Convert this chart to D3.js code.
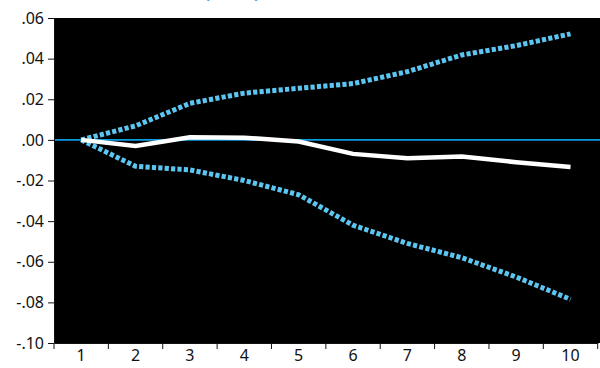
<!DOCTYPE html>
<html>
<head>
<meta charset="utf-8">
<script src="https://cdn.jsdelivr.net/npm/d3@7"></script>
<style>
  body { margin: 0; background: #fff; }
  .axis text { font-family: "Noto Sans", sans-serif; font-size: 16px; fill: #111; }
  .axis path, .axis line { stroke: #111; stroke-width: 1; }
</style>
</head>
<body>
<script>
// periods on the x axis
var periods = [1, 2, 3, 4, 5, 6, 7, 8, 9, 10];
// response (white line)
var response = [0.0000, -0.0030, 0.0013, 0.0011, -0.0008, -0.0069, -0.0090, -0.0082, -0.0110, -0.0133];
// +2 S.E. band
var upperBand = [0.0000, 0.0069, 0.0180, 0.0230, 0.0254, 0.0277, 0.0336, 0.0418, 0.0464, 0.0522];
// -2 S.E. band
var lowerBand = [0.0000, -0.0130, -0.0148, -0.0200, -0.0270, -0.0420, -0.0510, -0.0580, -0.0675, -0.0785];
// y tick values and labels
var yTicks = [0.06, 0.04, 0.02, 0.00, -0.02, -0.04, -0.06, -0.08, -0.10];
var yLabels = [".06", ".04", ".02", ".00", "-.02", "-.04", "-.06", "-.08", "-.10"];

var W = 600, H = 368;
var margin = {top: 18, right: 2.3, bottom: 25, left: 54};
var width = W - margin.left - margin.right;
var height = H - margin.top - margin.bottom;

var svg = d3.select("body").append("svg")
    .attr("width", W)
    .attr("height", H);

// title, mostly cut off at the top (as in the source picture)
svg.append("text")
    .attr("x", 204)
    .attr("y", -2)
    .attr("textLength", 56)
    .attr("lengthAdjust", "spacing")
    .style("font-family", "Noto Sans, sans-serif")
    .style("font-size", "18px")
    .style("font-weight", "bold")
    .style("fill", "#0a9be3")
    .text("(...)");

var g = svg.append("g")
    .attr("transform", "translate(" + margin.left + "," + margin.top + ")");

var xBand = d3.scaleBand()
    .domain(periods)
    .range([0, width]);

var yScale = d3.scaleLinear()
    .domain([-0.10, 0.06])
    .range([height, 0]);

// black plot area
g.append("rect")
    .attr("x", 0)
    .attr("y", 0)
    .attr("width", W - margin.left)
    .attr("height", height)
    .attr("fill", "#000");

// zero line
g.append("line")
    .attr("x1", 0)
    .attr("x2", W - margin.left)
    .attr("y1", yScale(0))
    .attr("y2", yScale(0))
    .attr("stroke", "#0a9be3")
    .attr("stroke-width", 1.6);

function xPos(i) {
  return xBand(periods[i]) + xBand.bandwidth() / 2;
}

var line = d3.line()
    .x(function(d, i) { return xPos(i); })
    .y(function(d) { return yScale(d); });

// bands (dotted)
[upperBand, lowerBand].forEach(function(band) {
  g.append("path")
    .datum(band)
    .attr("d", line)
    .attr("fill", "none")
    .attr("stroke", "#5cc6f2")
    .attr("stroke-width", 5)
    .attr("stroke-dasharray", "4.2,2.2");
});

// response line
g.append("path")
    .datum(response)
    .attr("d", line)
    .attr("fill", "none")
    .attr("stroke", "#fff")
    .attr("stroke-width", 4.5)
    .attr("stroke-linejoin", "miter");

// left axis
var yAxis = d3.axisLeft(yScale)
    .tickValues(yTicks)
    .tickFormat(function(d, i) { return yLabels[i]; })
    .tickSize(6)
    .tickSizeOuter(0)
    .tickPadding(4);

g.append("g")
  .attr("class", "axis")
  .call(yAxis);

// bottom axis: ticks at band edges, labels at band centres
var xAxis = d3.axisBottom(xBand)
    .tickSize(0)
    .tickSizeOuter(0)
    .tickPadding(7);

var xg = g.append("g")
  .attr("class", "axis")
  .attr("transform", "translate(0," + height + ")")
  .call(xAxis);

var edges = periods.map(function(p) { return xBand(p); }).concat([width]);
xg.selectAll(".edge")
  .data(edges)
  .enter()
  .append("line")
    .attr("class", "edge")
    .attr("x1", function(d) { return d; })
    .attr("x2", function(d) { return d; })
    .attr("y1", 0)
    .attr("y2", 6);
</script>
</body>
</html>
